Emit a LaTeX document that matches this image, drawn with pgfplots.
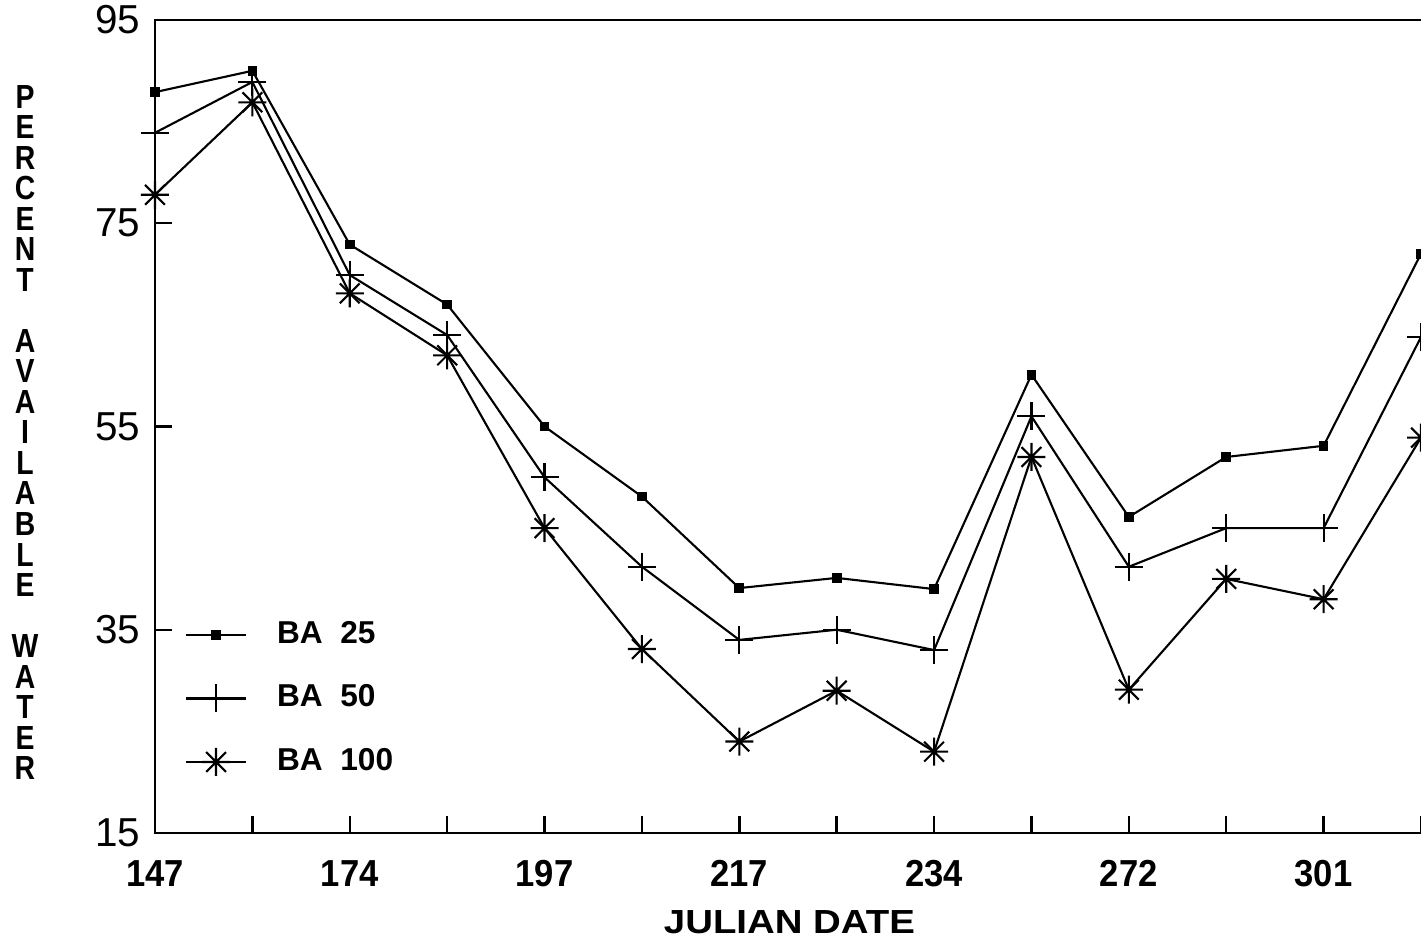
\documentclass[border=0pt]{standalone}
\usepackage{fontspec}
\setmainfont{Liberation Sans}
\newfontfamily\ylabfont{Liberation Sans}[FakeStretch=0.85]
\newfontfamily\xlabfont{Liberation Sans}[FakeStretch=1.15]
\newfontfamily\xtickfont{Liberation Sans}[FakeStretch=0.92]
\usepackage{pgfplots}
\usepackage{pgfplotstable}
\pgfplotsset{compat=1.18}

% eight-spoke asterisk used for BA 100
\pgfdeclareplotmark{eightstar}{%
  \pgfpathmoveto{\pgfqpoint{-\pgfplotmarksize}{0pt}}%
  \pgfpathlineto{\pgfqpoint{\pgfplotmarksize}{0pt}}%
  \pgfpathmoveto{\pgfqpoint{0pt}{-\pgfplotmarksize}}%
  \pgfpathlineto{\pgfqpoint{0pt}{\pgfplotmarksize}}%
  \pgfpathmoveto{\pgfqpoint{-0.707\pgfplotmarksize}{-0.707\pgfplotmarksize}}%
  \pgfpathlineto{\pgfqpoint{0.707\pgfplotmarksize}{0.707\pgfplotmarksize}}%
  \pgfpathmoveto{\pgfqpoint{-0.707\pgfplotmarksize}{0.707\pgfplotmarksize}}%
  \pgfpathlineto{\pgfqpoint{0.707\pgfplotmarksize}{-0.707\pgfplotmarksize}}%
  \pgfusepathqstroke}

% percent available water by sampling date (index 0..13)
\pgfplotstableread{
x  ba25  ba50  ba100
0  87.9  83.9  77.8
1  90.0  88.9  86.9
2  72.9  69.9  68.1
3  67.0  64.0  62.0
4  55.0  50.0  45.0
5  48.1  41.2  33.1
6  39.1  34.0  24.0
7  40.1  35.0  29.0
8  39.0  33.0  23.0
9  60.1  56.0  52.0
10 46.1  41.2  29.1
11 52.0  45.0  40.0
12 53.1  45.0  38.0
13 72.0  63.8  53.9
}\water

\begin{document}
\begin{tikzpicture}
\begin{axis}[
  scale only axis, width=126.89mm, height=81.3mm,
  xmin=0, xmax=13.03, ymin=15, ymax=95,
  xtick={0,...,13},
  xticklabels={147,,174,,197,,217,,234,,272,,301,},
  ytick={15,35,55,75,95},
  yticklabels={15,35,55,75,95},
  tick pos=left, tick align=inside, major tick length=1.7mm,
  axis line style={line width=0.7pt, black},
  tick style={line width=0.7pt, black},
  xticklabel style={font=\xtickfont\bfseries\fontsize{10.7}{12}\selectfont,
    inner sep=0pt, anchor=north, yshift=-2.7mm},
  yticklabel style={font=\fontsize{11.5}{13}\selectfont,
    inner sep=0pt, anchor=east, xshift=-1.4mm},
  every axis y label/.style={at={(rel axis cs:0,0.5)}, anchor=center,
    xshift=-13mm, yshift=-0.6mm, align=center,
    font=\ylabfont\bfseries\fontsize{9.5}{8.68}\selectfont},
  ylabel={P\\E\\R\\C\\E\\N\\T\\[8.68pt]A\\V\\A\\I\\L\\A\\B\\L\\E\\[8.68pt]W\\A\\T\\E\\R},
  every axis x label/.style={at={(rel axis cs:0.5,0)}, anchor=center,
    yshift=-8.9mm, font=\xlabfont\bfseries\fontsize{9.5}{11}\selectfont},
  xlabel={JULIAN DATE},
  legend style={draw=none, fill=none, inner sep=0pt, outer sep=0pt,
    at={(0.02364,0.26)}, anchor=north west,
    font=\bfseries\fontsize{9}{10}\selectfont,
    row sep=3.55mm, nodes={inner sep=0pt},
    /tikz/every odd column/.append style={column sep=3mm}},
  legend cell align=left,
  every axis plot/.append style={black, line width=0.6pt, mark options={solid}},
]
\addplot[mark=square*, mark size=0.38mm] table[x=x, y=ba25]{\water};
\addlegendentry{BA\ \ 25}
\addplot[mark=+, mark size=1.4mm] table[x=x, y=ba50]{\water};
\addlegendentry{BA\ \ 50}
\addplot[mark=eightstar, mark size=1.4mm] table[x=x, y=ba100]{\water};
\addlegendentry{BA\ \ 100}
\coordinate (bl) at (axis cs:0,15);
\coordinate (tr) at (axis cs:13,95);
\end{axis}
\pgfresetboundingbox
\path[use as bounding box] ([xshift=-15.5mm,yshift=-11.3mm]bl) rectangle ([yshift=2mm]tr);
\end{tikzpicture}
\end{document}
